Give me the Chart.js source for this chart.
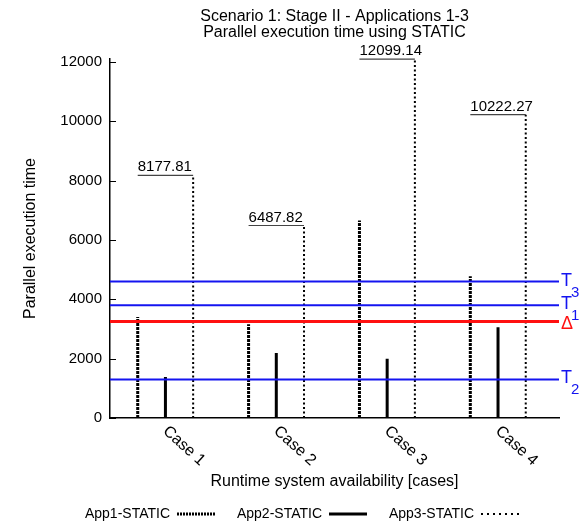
<!DOCTYPE html>
<html>
<head>
<meta charset="utf-8">
<script src="https://cdn.jsdelivr.net/npm/chart.js@4.4.0/dist/chart.umd.min.js"></script>
<style>
body{margin:0;background:#fff;}
</style>
</head>
<body>
<canvas id="runtimeChart" width="579" height="522"></canvas>
<script>
const cases=["Case 1","Case 2","Case 3","Case 4"];
const seriesNames=["App1-STATIC","App2-STATIC","App3-STATIC"];
const app1=[3400,3160,6660,4780];
const app2=[1380,2190,2000,3060];
const app3=[8177.81,6487.82,12099.14,10222.27];
const refLabels=[["T","3"],["T","1"],["\u0394",""],["T","2"]];
const refValues=[4600,3800,3250,1300];
const yTicks=[0,2000,4000,6000,8000,10000,12000];

const FONT='"Liberation Sans", Arial, Helvetica, sans-serif';
const X_MIN=0.5, X_MAX=4.55, OFF=0.25;
// line styles for the three apps (legend sample may use its own dash)
const appStyle=[
    {width:3,dash:[3,1],legDash:[2,1]},
    {width:3,dash:[],legDash:[]},
    {width:2,dash:[2,2.5],legDash:[2,4]}
];
const refColors=["#1414f0","#1414f0","#ff1010","#1414f0"];
const refWidth=[2,2,3,2];

// vertical impulse lines, one gap point between cases
function impulses(vals,shift){
    let pts=[];
    vals.forEach((v,i)=>{
        let xv=i+1+shift;
        pts.push({x:xv,y:0},{x:xv,y:v},{x:xv,y:null});
    });
    return pts;
}

let datasets=[];
refValues.forEach((v,i)=>{
    datasets.push({
        data:[{x:X_MIN,y:v},{x:X_MAX,y:v}],
        borderColor:refColors[i],borderWidth:refWidth[i],
        pointRadius:0,clip:false
    });
});
[app1,app2,app3].forEach((vals,k)=>{
    datasets.push({
        label:seriesNames[k],
        data:impulses(vals,(k-1)*OFF),
        borderColor:"#000",borderWidth:appStyle[k].width,borderDash:appStyle[k].dash,
        borderCapStyle:"butt",pointRadius:0,spanGaps:false,clip:false
    });
});
// underline under each App3 value label
let under=[];
app3.forEach((v,i)=>{
    under.push({x:i+1-OFF,y:v},{x:i+1+OFF,y:v},{x:i+1,y:null});
});
datasets.push({data:under,borderColor:"#444",borderWidth:1.2,pointRadius:0,spanGaps:false,clip:false});

const extras={
    id:"extras",
    afterDraw(chart){
        const {ctx,chartArea,scales:{x,y}}=chart;
        ctx.save();
        // small ticks on the inside of the y axis
        ctx.strokeStyle="#000";ctx.lineWidth=1;
        yTicks.forEach(v=>{
            let py=Math.round(y.getPixelForValue(v))+0.5;
            ctx.beginPath();ctx.moveTo(chartArea.left,py);ctx.lineTo(chartArea.left+6,py);ctx.stroke();
        });
        // value labels above App3 lines
        ctx.fillStyle="#000";ctx.font="15px "+FONT;ctx.textAlign="left";ctx.textBaseline="alphabetic";
        app3.forEach((v,i)=>{
            ctx.fillText(v.toFixed(2),x.getPixelForValue(i+1-OFF),y.getPixelForValue(v)-4);
        });
        // rotated case labels
        ctx.font="16px "+FONT;
        cases.forEach((c,i)=>{
            let px=x.getPixelForValue(i+1);
            ctx.save();
            ctx.translate(px+5,chartArea.bottom+5);
            ctx.rotate(42*Math.PI/180);
            ctx.textBaseline="top";ctx.textAlign="left";
            ctx.fillText(c,0,0);
            ctx.restore();
        });
        // labels for the reference lines
        refValues.forEach((v,i)=>{
            let py=y.getPixelForValue(v);
            let lx=chartArea.right+2;
            let [main,sub]=refLabels[i];
            ctx.fillStyle=refColors[i];
            ctx.font="18px "+FONT;
            if(sub){
                ctx.fillText(main,lx,py+4);
                let w=ctx.measureText(main).width;
                ctx.font="15px "+FONT;
                ctx.fillText(sub,lx+w-1,py+15);
            }else{
                ctx.fillText(main,lx,py+7);
            }
        });
        // legend at the bottom: text then line sample
        ctx.font="14px "+FONT;ctx.fillStyle="#000";ctx.textAlign="right";ctx.textBaseline="middle";
        const legY=514;
        seriesNames.forEach((n,k)=>{
            let xr=170+152*k;
            ctx.fillText(n,xr,legY);
            ctx.lineWidth=appStyle[k].width;
            ctx.setLineDash(appStyle[k].legDash);
            ctx.lineCap="butt";
            ctx.beginPath();ctx.moveTo(xr+7,legY);ctx.lineTo(xr+45,legY);ctx.stroke();
        });
        ctx.restore();
    }
};

new Chart(document.getElementById("runtimeChart"),{
    type:"line",
    data:{datasets:datasets},
    options:{
        responsive:false,
        animation:false,
        layout:{padding:{left:0,right:20,top:0,bottom:0}},
        plugins:{
            legend:{display:false},
            tooltip:{enabled:false},
            title:{
                display:true,fullSize:false,
                text:["Scenario 1: Stage II - Applications 1-3","Parallel execution time using STATIC"],
                color:"#000",
                font:{family:FONT,size:16,weight:"normal",lineHeight:1.0},
                padding:{top:9,bottom:18}
            }
        },
        scales:{
            x:{
                type:"linear",min:X_MIN,max:X_MAX,
                grid:{display:false,drawTicks:false},
                border:{display:true,color:"#000",width:1.5},
                ticks:{display:false},
                title:{display:true,text:"Runtime system availability [cases]",color:"#000",
                    font:{family:FONT,size:16},padding:{top:0,bottom:31}},
                afterFit(s){s.height=104;}
            },
            y:{
                min:0,max:12100,
                afterBuildTicks(s){s.ticks=yTicks.map(v=>({value:v}));},
                grid:{display:false,drawTicks:false},
                border:{display:true,color:"#000",width:1.5},
                ticks:{color:"#000",padding:8,font:{family:FONT,size:15},callback:v=>String(v)},
                title:{display:true,text:"Parallel execution time",color:"#000",
                    font:{family:FONT,size:16},padding:{top:21,bottom:0}},
                afterFit(s){s.width=110;}
            }
        }
    },
    plugins:[extras]
});
</script>
</body>
</html>
